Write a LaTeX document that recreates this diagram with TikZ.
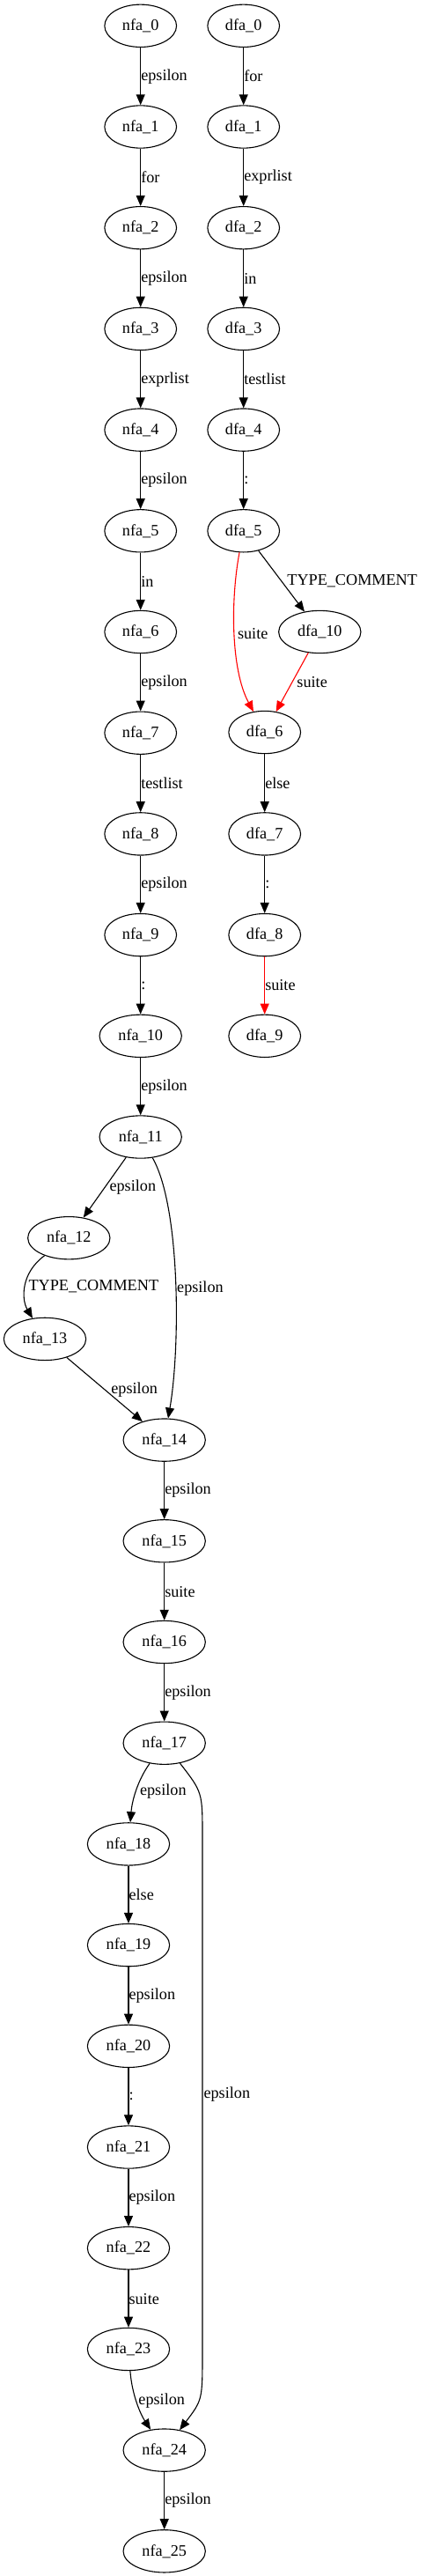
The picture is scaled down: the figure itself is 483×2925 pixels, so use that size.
\documentclass[tikz,border=0pt]{standalone}
\usepackage{fontspec}
\setmainfont{Liberation Serif}
\usetikzlibrary{shapes.geometric,arrows.meta}

\begin{document}
\begin{tikzpicture}[x=1pt,y=-1pt,line width=1.1pt,
  >={Triangle[length=12pt,width=10pt]},
  state/.style={ellipse,draw,inner sep=0pt,minimum width=81.7pt,minimum height=48.3pt,font=\fontsize{18.2}{20}\selectfont},
  wide/.style={state,minimum width=93.3pt},
  lbl/.style={anchor=west,inner sep=0pt,font=\fontsize{18.2}{20}\selectfont}]
\useasboundingbox (0,0) rectangle (483,2925);

\node[state] (n0) at (159.7,29.3) {nfa\_0};
\node[state] (n1) at (159.7,144.0) {nfa\_1};
\node[state] (n2) at (159.7,258.7) {nfa\_2};
\node[state] (n3) at (159.7,373.4) {nfa\_3};
\node[state] (n4) at (159.7,488.1) {nfa\_4};
\node[state] (n5) at (159.7,602.8) {nfa\_5};
\node[state] (n6) at (159.7,717.5) {nfa\_6};
\node[state] (n7) at (159.7,832.2) {nfa\_7};
\node[state] (n8) at (159.7,946.9) {nfa\_8};
\node[state] (n9) at (159.7,1061.6) {nfa\_9};
\node[wide] (n10) at (159.7,1176.3) {nfa\_10};
\node[wide] (n11) at (159.7,1291.0) {nfa\_11};
\node[wide] (n12) at (78.3,1405.7) {nfa\_12};
\node[wide] (n13) at (51.0,1520.4) {nfa\_13};
\node[wide] (n14) at (186.7,1635.1) {nfa\_14};
\node[wide] (n15) at (186.7,1749.8) {nfa\_15};
\node[wide] (n16) at (186.7,1864.5) {nfa\_16};
\node[wide] (n17) at (186.7,1979.2) {nfa\_17};
\node[wide] (n18) at (146.0,2093.9) {nfa\_18};
\node[wide] (n19) at (146.0,2208.6) {nfa\_19};
\node[wide] (n20) at (146.0,2323.3) {nfa\_20};
\node[wide] (n21) at (146.0,2438.0) {nfa\_21};
\node[wide] (n22) at (146.0,2552.7) {nfa\_22};
\node[wide] (n23) at (146.0,2667.4) {nfa\_23};
\node[wide] (n24) at (186.7,2782.1) {nfa\_24};
\node[wide] (n25) at (186.7,2896.8) {nfa\_25};

\node[state] (d0) at (276.7,29.3) {dfa\_0};
\node[state] (d1) at (276.7,144.0) {dfa\_1};
\node[state] (d2) at (276.7,258.7) {dfa\_2};
\node[state] (d3) at (276.7,373.4) {dfa\_3};
\node[state] (d4) at (276.7,488.1) {dfa\_4};
\node[state] (d5) at (276.7,602.8) {dfa\_5};
\node[wide] (d10) at (363.3,717.5) {dfa\_10};
\node[state] (d6) at (300.7,831.5) {dfa\_6};
\node[state] (d7) at (300.7,946.9) {dfa\_7};
\node[state] (d8) at (300.7,1061.6) {dfa\_8};
\node[state] (d9) at (300.7,1176.3) {dfa\_9};

\draw[->] (n0) -- node[lbl] {epsilon} (n1);
\draw[->] (n1) -- node[lbl] {for} (n2);
\draw[->] (n2) -- node[lbl] {epsilon} (n3);
\draw[->] (n3) -- node[lbl] {exprlist} (n4);
\draw[->] (n4) -- node[lbl] {epsilon} (n5);
\draw[->] (n5) -- node[lbl] {in} (n6);
\draw[->] (n6) -- node[lbl] {epsilon} (n7);
\draw[->] (n7) -- node[lbl] {testlist} (n8);
\draw[->] (n8) -- node[lbl] {epsilon} (n9);
\draw[->] (n9) -- node[lbl] {:} (n10);
\draw[->] (n10) -- node[lbl] {epsilon} (n11);
\draw[->] (n11) -- node[lbl,xshift=5pt] {epsilon} (n12);
\draw[->] (n11) .. controls (205,1370) and (205,1530) .. node[lbl,pos=0.53,xshift=1pt] {epsilon} (n14);
\draw[->] (n12) .. controls (24,1445) and (24,1475) .. node[lbl,xshift=3pt] {TYPE\_COMMENT} (n13);
\draw[->] (n13) -- node[lbl,xshift=7pt] {epsilon} (n14);
\draw[->] (n14) -- node[lbl] {epsilon} (n15);
\draw[->] (n15) -- node[lbl] {suite} (n16);
\draw[->] (n16) -- node[lbl] {epsilon} (n17);
\draw[->] (n17) .. controls (156,2022) and (150,2045) .. node[lbl,xshift=4pt] {epsilon} (n18);
\draw[->] (n17) .. controls (230,2035) .. (230,2085) -- node[lbl,xshift=1pt] {epsilon} (230,2671) .. controls (230,2725) .. (n24);
\draw[->] (n18) -- node[lbl] {else} (n19);
\draw[->] (n19) -- node[lbl] {epsilon} (n20);
\draw[->] (n20) -- node[lbl] {:} (n21);
\draw[->] (n21) -- node[lbl] {epsilon} (n22);
\draw[->] (n22) -- node[lbl] {suite} (n23);
\draw[->] (n23) .. controls (150,2720) and (160,2742) .. node[lbl,pos=0.45,xshift=2pt] {epsilon} (n24);
\draw[->] (n24) -- node[lbl] {epsilon} (n25);

\draw[->] (d0) -- node[lbl] {for} (d1);
\draw[->] (d1) -- node[lbl] {exprlist} (d2);
\draw[->] (d2) -- node[lbl] {in} (d3);
\draw[->] (d3) -- node[lbl] {testlist} (d4);
\draw[->] (d4) -- node[lbl] {:} (d5);
\draw[->] (d5) -- node[lbl,xshift=6pt] {TYPE\_COMMENT} (d10);
\draw[->,red] (d5) .. controls (262,680) and (262,760) .. node[lbl,text=black,xshift=3pt] {suite} (d6);
\draw[->,red] (d10) -- node[lbl,text=black,xshift=5pt] {suite} (d6);
\draw[->] (d6) -- node[lbl] {else} (d7);
\draw[->] (d7) -- node[lbl] {:} (d8);
\draw[->,red] (d8) -- node[lbl,text=black] {suite} (d9);
\end{tikzpicture}
\end{document}
